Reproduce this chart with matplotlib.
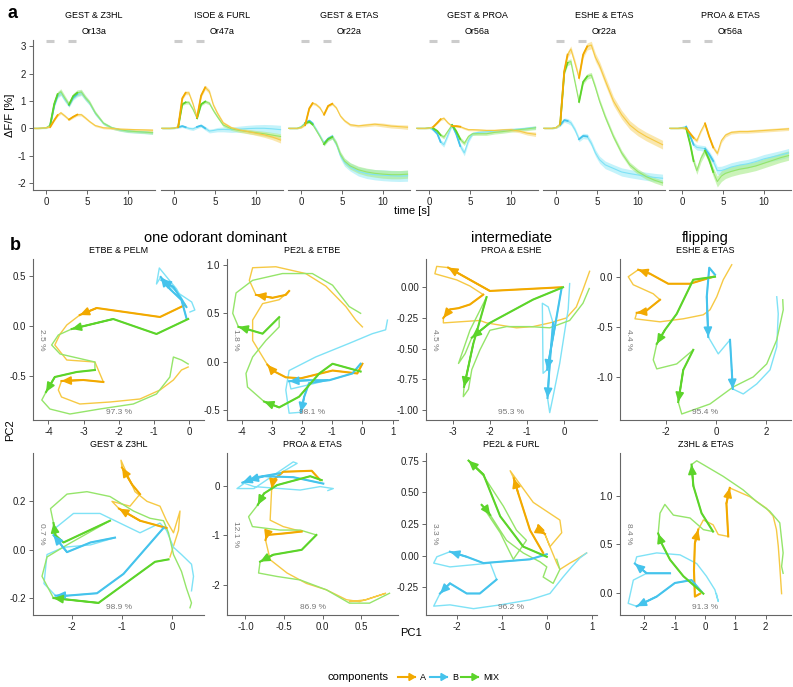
import numpy as np
import matplotlib.pyplot as plt
from matplotlib.ticker import FormatStrFormatter

plt.rcParams['font.family'] = ['Liberation Sans', 'DejaVu Sans']
plt.rcParams['axes.unicode_minus'] = False

DARK = {'A': '#F2A900', 'B': '#45C3EC', 'MIX': '#5CD42A'}
LIGHT = {'A': '#F6C944', 'B': '#7FE2F6', 'MIX': '#95E56A'}
BAND = {'A': '#F8D878', 'B': '#9DEBF8', 'MIX': '#A8EC8A'}
COMPS = ['A', 'B', 'MIX']

# ---------------- panel a: mean dF/F (%) vs time (s) ----------------
time = [-1.5, -1, -0.5, 0, 0.5, 1, 1.4, 1.8, 2.3, 2.8, 3.3, 3.8, 4.3, 4.8, 5.3, 6, 7, 8, 9, 10, 11, 12, 13]
stim = [(0, 1), (2.7, 3.7)]
on_windows = [(0.5, 1.4), (2.8, 3.8)]
a_pairs = ["GEST & Z3HL", "ISOE & FURL", "GEST & ETAS", "GEST & PROA", "ESHE & ETAS", "PROA & ETAS"]
a_receptors = ["Or13a", "Or47a", "Or22a", "Or56a", "Or22a", "Or56a"]

a1_A = [0, 0, 0.01, 0.02, 0.05, 0.3, 0.48, 0.57, 0.45, 0.32, 0.42, 0.5, 0.5, 0.38, 0.25, 0.1, 0.02, 0.0, -0.03, -0.04, -0.05, -0.06, -0.07]
a1_B = [0, 0, 0.01, 0.02, 0.1, 0.85, 1.2, 1.3, 1.05, 0.85, 1.12, 1.25, 1.3, 1.1, 0.92, 0.55, 0.18, 0.02, -0.06, -0.1, -0.12, -0.14, -0.16]
a1_MIX = [0, 0, 0.01, 0.02, 0.12, 0.9, 1.25, 1.34, 1.1, 0.87, 1.18, 1.3, 1.33, 1.12, 0.95, 0.57, 0.19, 0.02, -0.05, -0.1, -0.12, -0.14, -0.16]
a2_A = [0, 0, 0, 0.01, 0.05, 1.1, 1.3, 1.3, 0.9, 0.4, 1.2, 1.5, 1.35, 0.85, 0.55, 0.2, 0.02, -0.06, -0.12, -0.18, -0.24, -0.32, -0.43]
a2_B = [0, 0, 0, 0.01, 0.04, 0.08, 0.04, 0.0, -0.02, 0.05, 0.1, 0.0, -0.1, -0.08, -0.05, -0.04, -0.05, -0.03, -0.01, 0.0, 0.0, -0.02, -0.05]
a2_MIX = [0, 0, 0, 0.01, 0.05, 0.88, 0.95, 0.95, 0.7, 0.37, 0.88, 0.98, 0.92, 0.65, 0.42, 0.12, -0.02, -0.08, -0.12, -0.16, -0.2, -0.25, -0.3]
a3_A = [0, 0, 0, 0.02, 0.12, 0.73, 0.92, 0.88, 0.75, 0.5, 0.82, 0.9, 0.75, 0.45, 0.28, 0.13, 0.09, 0.12, 0.15, 0.12, 0.08, 0.06, 0.04]
a3_B = [0, 0, 0, 0.06, 0.2, 0.28, 0.18, -0.02, -0.28, -0.55, -0.38, -0.3, -0.58, -1.0, -1.25, -1.42, -1.58, -1.66, -1.7, -1.72, -1.74, -1.75, -1.74]
a3_MIX = [0, 0, 0, 0.05, 0.18, 0.24, 0.14, -0.05, -0.3, -0.58, -0.4, -0.32, -0.55, -0.95, -1.2, -1.38, -1.52, -1.6, -1.65, -1.68, -1.7, -1.7, -1.68]
a4_A = [0, 0, 0, 0.01, 0.05, 0.2, 0.33, 0.37, 0.2, 0.08, 0.08, 0.06, 0.0, -0.05, -0.05, -0.06, -0.08, -0.08, -0.06, -0.05, -0.1, -0.18, -0.22]
a4_B = [0, 0, 0, 0.02, -0.05, -0.2, -0.5, -0.6, -0.25, 0.12, -0.2, -0.65, -0.9, -0.45, -0.2, -0.15, -0.13, -0.1, -0.08, -0.05, -0.03, 0.0, 0.03]
a4_MIX = [0, 0, 0, 0.02, 0.0, -0.1, -0.25, -0.32, -0.1, 0.12, -0.1, -0.4, -0.55, -0.3, -0.2, -0.2, -0.2, -0.15, -0.12, -0.08, -0.05, -0.02, 0.02]
a5_A = [0, 0, 0, 0.03, 0.15, 2.1, 2.7, 2.9, 2.4, 1.85, 2.7, 3.0, 3.05, 2.6, 2.3, 1.75, 1.0, 0.5, 0.12, -0.12, -0.3, -0.45, -0.6]
a5_B = [0, 0, 0, 0.03, 0.12, 0.3, 0.27, 0.2, -0.05, -0.4, -0.28, -0.3, -0.55, -0.9, -1.15, -1.34, -1.47, -1.6, -1.66, -1.71, -1.76, -1.8, -1.83]
a5_MIX = [0, 0, 0, 0.03, 0.15, 2.05, 2.4, 2.45, 1.7, 0.97, 1.7, 1.9, 1.95, 1.5, 1.0, 0.42, -0.3, -0.9, -1.34, -1.59, -1.77, -1.9, -2.0]
a6_A = [0, 0, 0, 0.01, 0.0, -0.2, -0.35, -0.45, -0.1, 0.18, -0.3, -0.7, -0.92, -0.45, -0.25, -0.15, -0.12, -0.12, -0.1, -0.08, -0.06, -0.04, -0.02]
a6_B = [0, 0, 0, 0.03, 0.06, -0.3, -0.6, -0.7, -0.72, -0.75, -0.95, -1.2, -1.55, -1.55, -1.5, -1.42, -1.35, -1.3, -1.22, -1.12, -1.05, -0.98, -0.9]
a6_MIX = [0, 0, 0, 0.02, 0.0, -0.6, -1.2, -1.55, -1.1, -0.82, -1.15, -1.6, -1.95, -1.75, -1.65, -1.58, -1.5, -1.45, -1.38, -1.28, -1.18, -1.08, -1.0]

a1_A_sem = [0.02, 0.02, 0.02, 0.02, 0.03, 0.04, 0.05, 0.05, 0.05, 0.04, 0.05, 0.05, 0.05, 0.05, 0.04, 0.04, 0.04, 0.04, 0.04, 0.04, 0.04, 0.05, 0.05]
a1_B_sem = [0.02, 0.02, 0.02, 0.03, 0.04, 0.08, 0.1, 0.1, 0.09, 0.08, 0.09, 0.1, 0.1, 0.09, 0.08, 0.07, 0.05, 0.05, 0.05, 0.06, 0.06, 0.06, 0.06]
a1_MIX_sem = [0.02, 0.02, 0.02, 0.03, 0.04, 0.08, 0.1, 0.11, 0.1, 0.08, 0.1, 0.11, 0.1, 0.09, 0.08, 0.07, 0.05, 0.05, 0.05, 0.05, 0.05, 0.05, 0.06]
a2_A_sem = [0.02, 0.02, 0.02, 0.02, 0.03, 0.06, 0.07, 0.07, 0.06, 0.05, 0.07, 0.08, 0.08, 0.07, 0.06, 0.05, 0.05, 0.06, 0.07, 0.08, 0.09, 0.1, 0.11]
a2_B_sem = [0.03, 0.03, 0.03, 0.03, 0.04, 0.05, 0.05, 0.05, 0.06, 0.06, 0.06, 0.07, 0.07, 0.07, 0.08, 0.09, 0.1, 0.11, 0.12, 0.13, 0.14, 0.15, 0.16]
a2_MIX_sem = [0.02, 0.02, 0.02, 0.02, 0.03, 0.05, 0.06, 0.06, 0.06, 0.05, 0.06, 0.06, 0.06, 0.06, 0.06, 0.06, 0.06, 0.07, 0.08, 0.08, 0.09, 0.1, 0.1]
a3_A_sem = [0.02, 0.02, 0.02, 0.02, 0.03, 0.04, 0.05, 0.05, 0.05, 0.04, 0.05, 0.05, 0.05, 0.05, 0.05, 0.05, 0.05, 0.06, 0.06, 0.07, 0.07, 0.07, 0.08]
a3_B_sem = [0.03, 0.03, 0.03, 0.03, 0.04, 0.05, 0.06, 0.06, 0.07, 0.08, 0.09, 0.09, 0.1, 0.12, 0.14, 0.15, 0.17, 0.18, 0.19, 0.2, 0.2, 0.2, 0.2]
a3_MIX_sem = [0.02, 0.02, 0.02, 0.03, 0.04, 0.05, 0.05, 0.06, 0.06, 0.07, 0.07, 0.08, 0.09, 0.1, 0.11, 0.12, 0.13, 0.14, 0.14, 0.15, 0.15, 0.15, 0.15]
a4_A_sem = [0.02, 0.02, 0.02, 0.02, 0.03, 0.04, 0.05, 0.05, 0.04, 0.04, 0.04, 0.04, 0.04, 0.04, 0.04, 0.04, 0.05, 0.05, 0.05, 0.06, 0.06, 0.07, 0.08]
a4_B_sem = [0.02, 0.02, 0.02, 0.03, 0.04, 0.06, 0.08, 0.09, 0.07, 0.05, 0.08, 0.1, 0.11, 0.08, 0.06, 0.05, 0.05, 0.05, 0.05, 0.05, 0.05, 0.06, 0.06]
a4_MIX_sem = [0.02, 0.02, 0.02, 0.03, 0.04, 0.05, 0.06, 0.07, 0.05, 0.05, 0.06, 0.08, 0.08, 0.07, 0.06, 0.06, 0.06, 0.06, 0.06, 0.06, 0.06, 0.06, 0.07]
a5_A_sem = [0.02, 0.02, 0.02, 0.03, 0.05, 0.1, 0.12, 0.12, 0.12, 0.11, 0.12, 0.13, 0.14, 0.15, 0.15, 0.16, 0.16, 0.16, 0.16, 0.16, 0.16, 0.16, 0.16]
a5_B_sem = [0.02, 0.02, 0.02, 0.03, 0.05, 0.08, 0.09, 0.09, 0.09, 0.09, 0.1, 0.1, 0.11, 0.12, 0.13, 0.14, 0.14, 0.15, 0.15, 0.15, 0.15, 0.15, 0.15]
a5_MIX_sem = [0.02, 0.02, 0.02, 0.03, 0.05, 0.08, 0.1, 0.1, 0.09, 0.08, 0.09, 0.1, 0.1, 0.1, 0.1, 0.1, 0.1, 0.1, 0.1, 0.1, 0.1, 0.1, 0.1]
a6_A_sem = [0.02, 0.02, 0.02, 0.03, 0.04, 0.06, 0.07, 0.07, 0.06, 0.06, 0.07, 0.08, 0.08, 0.08, 0.07, 0.06, 0.06, 0.06, 0.06, 0.06, 0.06, 0.06, 0.06]
a6_B_sem = [0.02, 0.02, 0.02, 0.03, 0.04, 0.07, 0.09, 0.1, 0.1, 0.11, 0.12, 0.13, 0.15, 0.16, 0.16, 0.16, 0.16, 0.16, 0.16, 0.16, 0.16, 0.16, 0.16]
a6_MIX_sem = [0.02, 0.02, 0.02, 0.03, 0.05, 0.1, 0.12, 0.14, 0.14, 0.14, 0.15, 0.17, 0.2, 0.2, 0.19, 0.18, 0.18, 0.17, 0.17, 0.17, 0.17, 0.17, 0.17]

# ---------------- panel b: PCA trajectories (PC1, PC2) ----------------
b_groups = [("one odorant dominant", 0, 1), ("intermediate", 2, 2), ("flipping", 3, 3)]
b_titles = ["ETBE & PELM", "PE2L & ETBE", "PROA & ESHE", "ESHE & ETAS",
            "GEST & Z3HL", "PROA & ETAS", "PE2L & FURL", "Z3HL & ETAS"]
b_pc1_var = ["97.3 %", "98.1 %", "95.3 %", "95.4 %", "98.9 %", "86.9 %", "96.2 %", "91.3 %"]
b_pc2_var = ["2.5 %", "1.8 %", "4.5 %", "4.4 %", "0.7 %", "12.1 %", "3.3 %", "8.4 %"]
b_xlim = [(-4.44, 0.42), (-4.49, 1.18), (-3.74, 0.89), (-3.84, 3.0),
          (-2.78, 0.64), (-1.24, 0.98), (-2.68, 1.10), (-2.8, 2.84)]
b_ylim = [(-0.94, 0.67), (-0.60, 1.06), (-1.08, 0.23), (-1.43, 0.177),
          (-0.27, 0.40), (-2.61, 0.67), (-0.47, 0.81), (-0.23, 1.44)]
b_xticks = [[-4, -3, -2, -1, 0], [-4, -3, -2, -1, 0, 1], [-3, -2, -1, 0], [-2, 0, 2],
            [-2, -1, 0], [-1.0, -0.5, 0.0, 0.5], [-2, -1, 0, 1], [-2, -1, 0, 1, 2]]
b_yticks = [[-0.5, 0.0, 0.5], [-0.5, 0.0, 0.5, 1.0], [-1.0, -0.75, -0.5, -0.25, 0.0], [-1.0, -0.5, 0.0],
            [-0.2, 0.0, 0.2], [-2, -1, 0], [-0.25, 0.0, 0.25, 0.5, 0.75], [0.0, 0.5, 1.0]]
b_xfmt = ['%d', '%d', '%d', '%d', '%d', '%.1f', '%d', '%d']
b_yfmt = ['%.1f', '%.1f', '%.2f', '%.1f', '%.1f', '%d', '%.2f', '%.1f']

# ETBE & PELM
b1_A_x = [-0.12, -0.83, -2.63, -3.11, -3.48, -3.67, -3.82, -3.48, -2.68, -2.44, -3.01, -3.63, -3.72, -3.63, -3.11, -2.25, -1.40, -0.83, -0.45, -0.22, -0.03]
b1_A_y = [0.21, 0.09, 0.18, 0.11, 0.01, -0.08, -0.19, -0.34, -0.36, -0.56, -0.54, -0.55, -0.64, -0.71, -0.78, -0.76, -0.73, -0.64, -0.54, -0.44, -0.41]
b1_A_on = [(0, 3), (9, 11)]
b1_B_x = [-0.08, -0.22, -0.55, -0.81, -0.93, -0.85, -0.64, -0.36, -0.08, -0.45, -0.79, -0.27, 0.07, 0.16, 0.02]
b1_B_y = [0.08, 0.26, 0.37, 0.49, 0.42, 0.58, 0.49, 0.37, 0.19, 0.39, 0.46, 0.32, 0.24, 0.16, 0.14]
b1_B_on = [(0, 3), (8, 10)]
b1_MIX_x = [-0.03, -0.93, -2.16, -3.34, -3.72, -3.91, -3.67, -2.68, -2.68, -3.20, -3.82, -4.07, -4.19, -3.96, -3.39, -2.54, -1.59, -0.93, -0.55, -0.45, -0.22, -0.03]
b1_MIX_y = [0.07, -0.08, 0.07, -0.03, -0.09, -0.19, -0.28, -0.36, -0.44, -0.46, -0.51, -0.66, -0.74, -0.83, -0.88, -0.83, -0.78, -0.68, -0.51, -0.31, -0.34, -0.38]
b1_MIX_on = [(0, 3), (8, 11)]

# PE2L & ETBE
b2_A_x = [0.00, -0.17, -0.99, -2.04, -2.54, -2.98, -3.15, -3.64, -3.64, -3.31, -2.76, -2.43, -2.54, -2.98, -3.53, -3.75, -3.64, -2.87, -1.88, -1.21, -0.55, -0.22, 0.00]
b2_A_y = [-0.02, -0.12, -0.09, -0.17, -0.16, -0.09, -0.03, 0.22, 0.43, 0.60, 0.64, 0.73, 0.69, 0.66, 0.69, 0.84, 0.97, 0.98, 0.91, 0.78, 0.57, 0.43, 0.36]
b2_A_on = [(0, 6), (11, 14)]
b2_B_x = [-0.06, -0.33, -1.10, -1.77, -2.43, -2.37, -1.82, -1.16, -1.77, -1.93, -2.04, -2.43, -2.54, -2.43, -1.55, -0.44, 0.33, 0.77, 0.83]
b2_B_y = [-0.02, -0.12, -0.19, -0.19, -0.20, -0.28, -0.24, -0.19, -0.22, -0.36, -0.52, -0.53, -0.29, -0.09, 0.05, 0.19, 0.29, 0.33, 0.43]
b2_B_on = [(0, 4), (7, 10)]
b2_MIX_x = [-0.06, -0.99, -1.43, -2.10, -2.76, -3.26, -3.81, -3.86, -3.64, -3.20, -2.76, -2.76, -3.31, -3.75, -4.11, -4.30, -4.19, -3.64, -2.65, -1.66, -0.99, -0.44, -0.06]
b2_MIX_y = [-0.10, -0.02, -0.12, -0.36, -0.47, -0.41, -0.26, -0.12, 0.05, 0.22, 0.36, 0.46, 0.29, 0.33, 0.36, 0.50, 0.71, 0.84, 0.91, 0.91, 0.79, 0.57, 0.50]
b2_MIX_on = [(0, 5), (11, 14)]

# PROA & ESHE
b3_A_x = [-0.07, -2.01, -3.14, -3.45, -3.50, -2.91, -2.55, -2.19, -2.55, -2.86, -3.09, -3.27, -3.27, -2.28, -2.10, -1.29, -0.84, -0.39, 0.06, 0.33, 0.51, 0.69]
b3_A_y = [0.00, -0.03, 0.16, 0.17, 0.11, 0.06, 0.01, -0.06, -0.14, -0.17, -0.18, -0.25, -0.29, -0.27, -0.29, -0.33, -0.32, -0.29, -0.25, -0.16, -0.02, 0.13]
b3_A_on = [(0, 2), (7, 11)]
b3_B_x = [-0.07, -0.25, -0.46, -0.57, -0.59, -0.43, -0.30, -0.39, -0.45, -0.39, -0.30, -0.12, 0.02, 0.11, 0.15]
b3_B_y = [-0.01, -0.32, -0.67, -0.70, -0.13, -0.16, -0.29, -0.62, -0.90, -1.02, -0.89, -0.62, -0.35, -0.18, 0.03]
b3_B_on = [(0, 2), (6, 8)]
b3_MIX_x = [-0.03, -0.84, -2.01, -2.50, -2.68, -2.86, -2.55, -2.10, -2.46, -2.71, -2.73, -2.59, -2.50, -2.28, -2.01, -1.56, -0.93, -0.39, 0.15, 0.51, 0.68]
b3_MIX_y = [0.00, -0.10, -0.29, -0.41, -0.54, -0.62, -0.35, -0.08, -0.46, -0.81, -0.89, -0.83, -0.67, -0.51, -0.35, -0.32, -0.32, -0.33, -0.27, -0.13, -0.01]
b3_MIX_on = [(0, 3), (7, 9)]

# ESHE & ETAS
b4_A_x = [-0.11, -1.04, -1.91, -2.64, -3.11, -3.51, -3.31, -2.51, -2.24, -2.84, -3.17, -3.24, -2.24, -1.31, -0.51, -0.24, 0.03, 0.29, 0.63]
b4_A_y = [0.00, -0.07, -0.07, 0.03, 0.07, 0.00, -0.08, -0.17, -0.23, -0.35, -0.36, -0.42, -0.45, -0.42, -0.38, -0.33, -0.20, -0.03, 0.12]
b4_A_on = [(0, 4), (8, 10)]
b4_B_x = [-0.04, -0.27, -0.37, -0.31, 0.09, 0.56, 0.63, 0.67, 1.09, 1.63, 2.16, 2.43, 2.49, 2.43]
b4_B_y = [0.02, 0.09, -0.20, -0.60, -0.77, -0.63, -0.93, -1.12, -1.17, -1.07, -0.93, -0.70, -0.37, -0.20]
b4_B_on = [(0, 3), (5, 7)]
b4_MIX_x = [-0.04, -0.91, -1.57, -2.04, -2.37, -2.51, -2.37, -1.57, -0.91, -1.31, -1.51, -1.37, -0.24, 0.69, 1.49, 2.03, 2.43, 2.69, 2.67]
b4_MIX_y = [0.00, -0.03, -0.37, -0.53, -0.67, -0.83, -0.92, -0.87, -0.73, -0.93, -1.25, -1.37, -1.27, -1.10, -1.00, -0.87, -0.63, -0.33, -0.23]
b4_MIX_on = [(0, 4), (8, 10)]

# GEST & Z3HL
b5_A_x = [-0.11, -0.64, -1.06, -1.20, -0.84, -0.64, -0.80, -1.00, -1.02, -0.87, -0.74, -0.50, -0.24, -0.11, 0.03, 0.16, 0.13, -0.04]
b5_A_y = [0.09, 0.12, 0.17, 0.20, 0.18, 0.23, 0.27, 0.34, 0.37, 0.30, 0.24, 0.20, 0.18, 0.12, 0.07, 0.16, 0.08, -0.03]
b5_A_on = [(0, 2), (5, 7)]
b5_B_x = [-0.17, -0.97, -1.50, -2.10, -2.33, -2.56, -2.50, -2.17, -1.63, -1.14, -1.63, -2.10, -2.37, -2.33, -1.97, -1.44, -0.64, -0.24, -0.11, 0.03, 0.19, 0.39, 0.43, 0.39]
b5_B_y = [0.09, -0.10, -0.18, -0.19, -0.19, -0.14, -0.02, 0.01, 0.02, 0.05, 0.03, -0.01, 0.06, 0.09, 0.15, 0.15, 0.07, 0.11, 0.08, 0.01, -0.02, -0.06, -0.11, -0.17]
b5_B_on = [(0, 4), (9, 12)]
b5_MIX_x = [-0.07, -0.34, -1.47, -2.37, -2.60, -2.50, -2.10, -1.24, -2.17, -2.33, -2.37, -2.43, -2.10, -1.70, -1.24, -0.77, -0.44, -0.17, -0.07, 0.03, 0.19, 0.29, 0.39, 0.36]
b5_MIX_y = [-0.04, -0.05, -0.22, -0.20, -0.11, -0.03, 0.02, 0.12, 0.03, 0.06, 0.11, 0.17, 0.23, 0.24, 0.22, 0.16, 0.13, 0.12, 0.07, -0.02, -0.09, -0.16, -0.22, -0.24]
b5_MIX_on = [(0, 3), (7, 10)]

# PROA & ETAS
b6_A_x = [-0.03, -0.14, -0.51, -0.64, -0.66, -0.68, -0.51, -0.27, -0.51, -0.72, -0.74, -0.68, -0.46, -0.21, 0.05, 0.31, 0.48, 0.82, 0.57, 0.35]
b6_A_y = [0.12, 0.31, 0.29, 0.12, -0.05, -0.69, -0.82, -0.92, -0.96, -0.99, -1.09, -1.49, -1.76, -1.97, -2.10, -2.30, -2.34, -2.17, -2.30, -2.34]
b6_A_on = [(0, 4), (7, 10)]
b6_B_x = [0.01, -0.38, -0.76, -0.96, -1.11, -0.89, -0.38, -0.33, -0.55, -0.85, -1.04, -0.89, -0.29, -0.03, 0.14, 0.07]
b6_B_y = [0.05, 0.18, 0.20, 0.12, -0.05, -0.05, 0.49, 0.46, 0.26, 0.18, 0.07, -0.01, -0.08, -0.01, -0.05, -0.09]
b6_B_on = [(0, 3), (8, 10)]
b6_MIX_x = [-0.01, -0.16, -0.59, -0.76, -0.84, -0.96, -0.91, -0.55, -0.29, -0.08, -0.27, -0.64, -0.81, -0.83, -0.59, -0.29, 0.05, 0.35, 0.61, 0.87]
b6_MIX_y = [0.12, 0.20, 0.02, -0.15, -0.38, -0.62, -0.82, -0.89, -0.89, -0.99, -1.29, -1.39, -1.53, -1.76, -1.83, -1.90, -2.10, -2.37, -2.37, -2.17]
b6_MIX_on = [(0, 4), (9, 12)]

# PE2L & FURL
b7_A_x = [-0.09, -0.38, -0.64, -0.74, -0.82, -0.31, 0.28, 0.32, 0.06, -0.09, -0.20, -0.20, -0.05, 0.06, 0.21, 0.28, 0.50, 0.65, 0.87]
b7_A_y = [0.02, 0.20, 0.49, 0.61, 0.67, 0.42, 0.28, 0.18, 0.07, 0.20, 0.24, 0.20, 0.17, 0.07, -0.06, -0.11, -0.06, -0.03, 0.02]
b7_A_on = [(0, 3), (9, 12)]
b7_B_x = [-0.01, -0.38, -1.41, -1.78, -2.15, -2.44, -2.51, -2.15, -1.26, -1.12, -1.49, -1.78, -2.15, -2.37, -2.51, -2.15, -1.63, -1.04, -0.38, 0.06, 0.35, 0.54, 0.72, 0.87]
b7_B_y = [0.01, -0.03, -0.06, -0.01, 0.03, -0.01, -0.06, -0.09, -0.06, -0.19, -0.30, -0.30, -0.22, -0.30, -0.40, -0.39, -0.42, -0.39, -0.35, -0.30, -0.17, -0.09, -0.02, 0.02]
b7_B_on = [(0, 4), (9, 13)]
b7_MIX_x = [-0.01, -0.53, -1.04, -1.41, -1.74, -1.41, -0.97, -0.68, -0.46, -0.75, -1.04, -1.45, -1.34, -1.26, -0.90, -0.53, -0.16, -0.01, -0.09, 0.13, 0.28, 0.21]
b7_MIX_y = [-0.01, 0.07, 0.31, 0.64, 0.75, 0.63, 0.39, 0.20, 0.12, -0.03, 0.18, 0.40, 0.36, 0.32, 0.12, 0.02, -0.05, -0.09, -0.17, -0.22, -0.11, -0.03]
b7_MIX_on = [(0, 4), (11, 13)]

# Z3HL & ETAS
b8_A_x = [-0.16, -0.33, -0.36, -0.33, -0.22, -0.05, 0.27, 0.44, 0.77, 0.71, 0.82, 1.48, 2.03, 2.25, 2.36, 2.42, 2.47, 2.53]
b8_A_y = [-0.01, -0.04, 0.23, 0.51, 0.65, 0.75, 0.70, 0.60, 0.58, 0.92, 1.08, 0.99, 0.87, 0.79, 0.65, 0.48, 0.27, -0.01]
b8_A_on = [(0, 4), (8, 10)]
b8_B_x = [-0.11, -0.44, -0.99, -1.59, -2.25, -2.53, -2.36, -1.92, -1.15, -1.92, -2.31, -2.25, -1.59, -0.82, -0.27, 0.05, 0.33, 0.44, 0.38]
b8_B_y = [0.01, 0.13, 0.10, -0.04, -0.14, -0.11, 0.13, 0.20, 0.20, 0.20, 0.30, 0.37, 0.41, 0.39, 0.30, 0.17, 0.03, -0.09, -0.01]
b8_B_on = [(0, 4), (8, 10)]
b8_MIX_x = [-0.05, -0.71, -1.15, -1.43, -1.54, -1.48, -1.32, -1.04, -0.49, -0.05, 0.27, -0.11, -0.38, -0.44, -0.27, 0.60, 1.26, 1.70, 2.14, 2.47, 2.58, 2.53, 2.58]
b8_MIX_y = [-0.01, 0.17, 0.34, 0.51, 0.61, 0.82, 0.91, 0.80, 0.77, 0.65, 0.63, 0.82, 1.10, 1.32, 1.36, 1.20, 1.06, 0.94, 0.84, 0.72, 0.41, 0.27, 0.20]
b8_MIX_on = [(0, 4), (10, 13)]

# ---------------------------------------------------------------
a_vals = [
    {'A': a1_A, 'B': a1_B, 'MIX': a1_MIX},
    {'A': a2_A, 'B': a2_B, 'MIX': a2_MIX},
    {'A': a3_A, 'B': a3_B, 'MIX': a3_MIX},
    {'A': a4_A, 'B': a4_B, 'MIX': a4_MIX},
    {'A': a5_A, 'B': a5_B, 'MIX': a5_MIX},
    {'A': a6_A, 'B': a6_B, 'MIX': a6_MIX},
]
a_sem = [
    {'A': a1_A_sem, 'B': a1_B_sem, 'MIX': a1_MIX_sem},
    {'A': a2_A_sem, 'B': a2_B_sem, 'MIX': a2_MIX_sem},
    {'A': a3_A_sem, 'B': a3_B_sem, 'MIX': a3_MIX_sem},
    {'A': a4_A_sem, 'B': a4_B_sem, 'MIX': a4_MIX_sem},
    {'A': a5_A_sem, 'B': a5_B_sem, 'MIX': a5_MIX_sem},
    {'A': a6_A_sem, 'B': a6_B_sem, 'MIX': a6_MIX_sem},
]
g = globals()
b_traj = [{c: (g['b%d_%s_x' % (k, c)], g['b%d_%s_y' % (k, c)], g['b%d_%s_on' % (k, c)]) for c in COMPS}
          for k in range(1, 9)]

W, H = 793, 687
fig = plt.figure(figsize=(W / 100, H / 100), dpi=100)


def px(x0, y_top, w, h):
    return [x0 / W, 1 - (y_top + h) / H, w / W, h / H]


def style(ax, left=True):
    for s in ['top', 'right']:
        ax.spines[s].set_visible(False)
    for s in ['left', 'bottom']:
        ax.spines[s].set_color('#666666')
        ax.spines[s].set_linewidth(0.8)
    if not left:
        ax.spines['left'].set_visible(False)
        ax.tick_params(axis='y', left=False, labelleft=False)
    ax.tick_params(length=3, width=0.7, color='#666666', labelsize=7, pad=2, labelcolor='#222222')


# ---- panel a ----
t = np.array(time)
a_left = [33, 161, 288, 416, 543, 669]
for k in range(6):
    ax = fig.add_axes(px(a_left[k], 39.6, 122, 150.1))
    for c in ['B', 'MIX', 'A']:
        y = np.array(a_vals[k][c])
        s = np.array(a_sem[k][c])
        ax.fill_between(t, y - s, y + s, color=BAND[c], alpha=0.6, lw=0)
        ax.plot(t, y, color=LIGHT[c], lw=0.8)
        for lo, hi in on_windows:
            m = (t >= lo) & (t <= hi)
            ax.plot(t[m], y[m], color=DARK[c], lw=1.3)
    for lo, hi in stim:
        ax.plot([lo, hi], [3.2, 3.2], color='#cccccc', lw=2.2, clip_on=False, solid_capstyle='butt')
    ax.set_xlim(-1.6, 13.3)
    ax.set_ylim(-2.25, 3.25)
    ax.set_xticks([0, 5, 10])
    ax.set_yticks([-2, -1, 0, 1, 2, 3])
    style(ax, left=(k == 0))
    cx = (a_left[k] + 61) / W
    fig.text(cx, 1 - 15 / H, a_pairs[k], ha='center', va='center', fontsize=6.5)
    fig.text(cx, 1 - 32 / H, a_receptors[k], ha='center', va='center', fontsize=6.5)

fig.text(412 / W, 1 - 211 / H, 'time [s]', ha='center', va='center', fontsize=8)
fig.text(10 / W, 1 - 115 / H, 'ΔF/F [%]', ha='center', va='center', rotation=90, fontsize=8)
fig.text(8 / W, 1 - 14 / H, 'a', ha='left', va='center', fontsize=13, fontweight='bold')
fig.text(10 / W, 1 - 246 / H, 'b', ha='left', va='center', fontsize=13, fontweight='bold')

# ---- panel b ----
b_left = [33, 227, 426, 620]
row_top = [259, 453]
row_h = [161, 162]
b_axes = []
for k in range(8):
    r, col = divmod(k, 4)
    ax = fig.add_axes(px(b_left[col], row_top[r], 171, row_h[r]))
    b_axes.append(ax)
    tr = b_traj[k]
    for c in COMPS:
        xs, ys, on = tr[c]
        ax.plot(xs, ys, color=LIGHT[c], lw=1.0, solid_joinstyle='round')
    for c in COMPS:
        xs, ys, on = tr[c]
        for i0, i1 in on:
            ax.plot(xs[i0:i1 + 1], ys[i0:i1 + 1], color=DARK[c], lw=1.5, solid_joinstyle='round')
            ax.annotate('', xy=(xs[i1], ys[i1]), xytext=(xs[i1 - 1], ys[i1 - 1]),
                        arrowprops=dict(arrowstyle='-|>,head_length=0.55,head_width=0.25',
                                        color=DARK[c], lw=1.2, shrinkA=0, shrinkB=0))
    ax.set_xlim(*b_xlim[k])
    ax.set_ylim(*b_ylim[k])
    ax.set_xticks(b_xticks[k])
    ax.set_yticks(b_yticks[k])
    ax.xaxis.set_major_formatter(FormatStrFormatter(b_xfmt[k]))
    ax.yaxis.set_major_formatter(FormatStrFormatter(b_yfmt[k]))
    style(ax)
    ax.text(0.5, 1.05, b_titles[k], transform=ax.transAxes, ha='center', va='center', fontsize=6.5)
    ax.text(0.5, 0.045, b_pc1_var[k], transform=ax.transAxes, ha='center', va='center',
            fontsize=6, color='#777777')
    ax.text(0.05, 0.5, b_pc2_var[k], transform=ax.transAxes, ha='center', va='center',
            fontsize=6, color='#777777', rotation=-90)

for label, c0, c1 in b_groups:
    x0 = b_left[c0]
    x1 = b_left[c1] + 171
    fig.text((x0 + x1) / 2 / W, 1 - 238 / H, label, ha='center', va='center', fontsize=10.5)

fig.text(411 / W, 1 - 633 / H, 'PC1', ha='center', va='center', fontsize=8)
fig.text(10 / W, 1 - 430 / H, 'PC2', ha='center', va='center', rotation=90, fontsize=8)

# ---- legend ----
ly = 1 - 677 / H
fig.text(389 / W, ly, 'components', ha='right', va='center', fontsize=8)
leg_x = [(398, 415, 'A'), (430, 447, 'B'), (461, 478, 'MIX')]
for (x0, x1, lab), c in zip(leg_x, COMPS):
    fig.add_artist(plt.Line2D([x0 / W, x1 / W], [ly, ly], color=DARK[c], lw=1.5,
                              transform=fig.transFigure))
    fig.patches.append(plt.Polygon([[(x1 - 6) / W, ly + 3.5 / H], [x1 / W, ly], [(x1 - 6) / W, ly - 3.5 / H]],
                                   closed=True, color=DARK[c], transform=fig.transFigure))
    fig.text((x1 + 5) / W, ly, lab, ha='left', va='center', fontsize=6.5)

fig.savefig('out.png', dpi=100)
